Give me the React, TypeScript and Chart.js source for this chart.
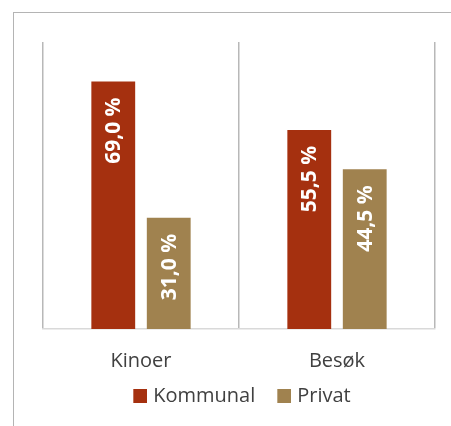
import React, { useEffect, useRef } from "react";
import { Chart, registerables } from "chart.js";

Chart.register(...registerables);

const categories = ["Kinoer", "Besøk"];
const seriesNames = ["Kommunal", "Privat"];
const kommunal = [69.0, 55.5];
const privat = [31.0, 44.5];
const seriesColors = ["#A5300F", "#A0824F"];
const yMin = 0;
const yMax = 80;

const FONT = "'Open Sans', sans-serif";

function makeSwatch(color: string) {
  const c = document.createElement("canvas");
  c.width = 30;
  c.height = 14;
  const ctx = c.getContext("2d")!;
  ctx.fillStyle = color;
  ctx.fillRect(16, 0, 14, 14);
  return c;
}

const valueLabels = {
  id: "valueLabels",
  afterDatasetsDraw(chart: any) {
    const ctx = chart.ctx;
    chart.data.datasets.forEach((ds: any, di: number) => {
      const meta = chart.getDatasetMeta(di);
      meta.data.forEach((bar: any, i: number) => {
        const v = ds.data[i] as number;
        const text = v.toFixed(1).replace(".", ",") + " %";
        ctx.save();
        ctx.translate(bar.x + 1, bar.y + 16);
        ctx.rotate(-Math.PI / 2);
        ctx.font = `bold 21px ${FONT}`;
        ctx.fillStyle = "#ffffff";
        ctx.textAlign = "right";
        ctx.textBaseline = "middle";
        ctx.fillText(text, 0, 0);
        ctx.restore();
      });
    });
  },
};

export default function App() {
  const ref = useRef<HTMLCanvasElement | null>(null);

  useEffect(() => {
    if (!ref.current) return;
    const values = [kommunal, privat];
    const chart = new Chart(ref.current, {
      type: "bar",
      data: {
        labels: categories,
        datasets: seriesNames.map((name, i) => ({
          label: name,
          data: values[i],
          backgroundColor: seriesColors[i],
          borderWidth: 0,
          barPercentage: 0.79,
          categoryPercentage: 0.566,
          pointStyle: makeSwatch(seriesColors[i]) as any,
        })),
      },
      options: {
        responsive: false,
        animation: false,
        layout: { padding: { left: 37, right: 16, top: 42, bottom: 10 } },
        scales: {
          x: {
            grid: {
              display: true,
              offset: true,
              color: "#b8b8b8",
              lineWidth: 1.5,
              drawTicks: false,
            },
            border: { display: true, color: "#d9d9d9", width: 1.5 },
            ticks: {
              font: { family: FONT, size: 20 },
              color: "#404040",
              padding: 20,
            },
            afterFit: (s: any) => {
              s.height = 47;
            },
          },
          y: {
            display: true,
            min: yMin,
            max: yMax,
            grid: { display: false, drawTicks: false },
            border: { display: false },
            ticks: { display: false },
            afterFit: (s: any) => {
              s.width = 6;
            },
          },
        },
        plugins: {
          legend: {
            position: "bottom",
            labels: {
              usePointStyle: true,
              pointStyleWidth: 22,
              boxHeight: 14,
              padding: 10,
              font: { family: FONT, size: 20 },
              color: "#404040",
            },
          },
          tooltip: { enabled: false },
        },
      },
      plugins: [valueLabels],
    });
    return () => chart.destroy();
  }, []);

  return (
    <div
      style={{
        position: "fixed",
        left: 0,
        top: 0,
        width: 451,
        height: 426,
        overflow: "hidden",
        background: "#ffffff",
      }}
    >
      <canvas ref={ref} width={451} height={426} style={{ display: "block" }} />
      <div
        style={{
          position: "absolute",
          left: 13,
          top: 12,
          width: 460,
          height: 430,
          borderLeft: "1px solid #b4b4b4",
          borderTop: "1px solid #b4b4b4",
          pointerEvents: "none",
        }}
      />
    </div>
  );
}
